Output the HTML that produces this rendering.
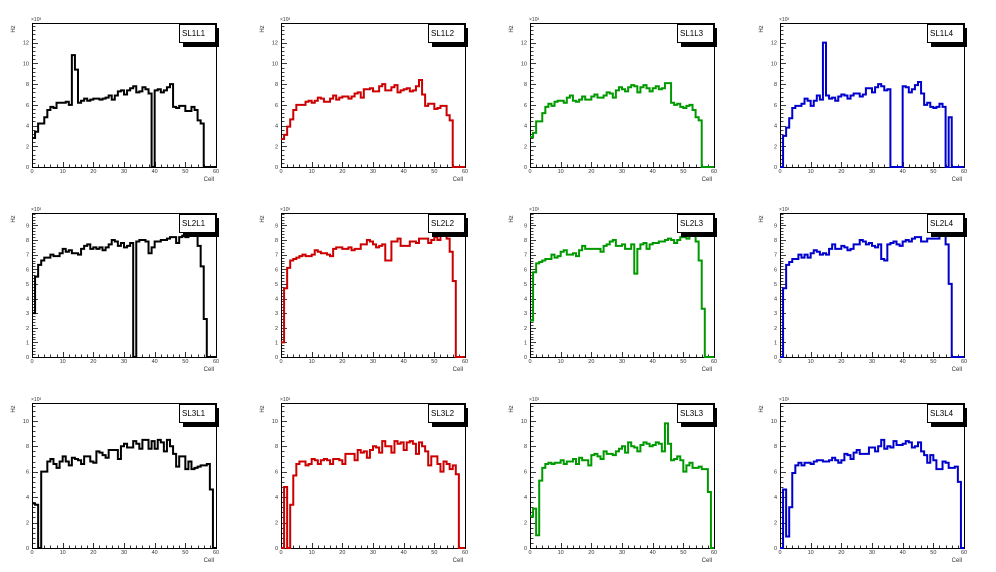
<!DOCTYPE html>
<html>
<head>
<meta charset="utf-8">
<style>
html,body{margin:0;padding:0;background:#fff;}
svg{display:block;font-family:"Liberation Sans",sans-serif;}
</style>
</head>
<body>
<svg id="chart" width="996" height="572" viewBox="0 0 996 572" xmlns="http://www.w3.org/2000/svg"></svg>
<script>
const panelNames = ["SL1L1","SL1L2","SL1L3","SL1L4","SL2L1","SL2L2","SL2L3","SL2L4","SL3L1","SL3L2","SL3L3","SL3L4"];
const sl1l1 = [2.8,3.4,4.2,4.2,4.8,5.5,5.8,5.7,6.2,6.2,6.2,6.3,6.0,10.8,9.4,6.2,6.4,6.6,6.4,6.5,6.6,6.6,6.5,6.6,6.7,6.9,6.5,6.9,7.3,7.4,7.0,7.4,7.6,7.8,7.2,7.3,7.7,7.5,7.1,0,7.4,7.5,7.2,7.4,7.7,8.0,5.8,5.7,5.9,5.9,5.4,5.4,5.8,5.5,4.5,4.2,0,0,0,0];
const sl1l2 = [2.7,3.1,3.9,4.6,5.5,6.0,6.0,6.0,6.3,6.4,6.2,6.4,6.7,6.6,6.3,6.3,6.6,6.9,6.5,6.7,6.8,6.8,6.6,6.8,7.1,7.2,6.7,7.5,7.5,7.6,7.3,7.3,7.8,8.0,7.4,7.4,7.7,7.9,7.2,7.4,7.5,7.6,7.3,7.4,7.8,8.4,7.0,5.9,6.1,6.1,5.6,5.7,5.9,5.9,5.0,4.5,0,0,0,0];
const sl1l3 = [2.9,3.3,4.4,4.4,5.2,5.8,6.1,5.9,6.3,6.4,6.4,6.2,6.7,6.9,6.4,6.3,6.5,6.8,6.5,6.5,6.8,7.0,6.7,6.7,6.9,7.2,7.1,6.7,7.4,7.7,7.5,7.3,7.7,7.9,7.8,7.2,7.7,7.9,7.6,7.3,7.6,7.8,7.5,7.6,8.1,8.1,6.2,6.0,6.1,5.8,5.7,5.9,6.0,5.5,4.8,4.5,0,0,0,0];
const sl1l4 = [0,3.0,3.8,4.7,5.7,5.9,5.9,6.1,6.6,6.4,5.9,6.4,6.9,6.5,12.0,6.9,6.6,6.7,6.4,6.8,7.0,6.9,6.6,6.9,7.1,7.1,6.8,7.0,7.6,7.6,7.2,7.7,8.0,7.8,7.4,7.5,0,0,0,0,7.8,7.7,7.2,7.5,7.9,8.2,7.1,6.0,6.2,5.8,5.7,5.8,6.1,5.8,0,4.8,0,0,0,0];
const sl2l1 = [3.0,5.5,6.3,6.6,6.8,6.8,7.0,6.9,6.9,7.1,7.4,7.2,7.3,7.1,7.1,7.0,7.4,7.6,7.7,7.4,7.5,7.4,7.5,7.3,7.5,7.7,8.0,7.9,7.6,7.8,7.5,7.6,7.8,0,7.9,8.0,8.0,7.9,7.1,7.5,7.9,7.9,8.0,8.0,8.1,8.2,8.2,7.8,8.2,8.3,8.2,8.4,8.3,8.5,7.6,6.2,2.6,0,0,0];
const sl2l2 = [1.0,4.7,6.1,6.6,6.7,6.8,6.9,7.0,6.9,6.9,7.0,7.3,7.2,7.1,7.1,7.0,6.9,7.4,7.5,7.5,7.4,7.4,7.5,7.3,7.4,7.4,7.7,7.7,8.0,7.9,7.7,7.5,7.6,7.7,6.6,6.6,7.9,7.9,8.1,7.6,7.6,7.6,7.9,7.9,7.8,8.1,8.1,8.1,7.8,8.0,8.2,8.0,8.3,8.4,8.1,7.2,5.2,0,0,0];
const sl2l3 = [2.5,5.8,6.4,6.5,6.6,6.7,6.7,7.0,6.8,6.9,7.2,7.3,7.0,7.0,7.1,6.9,7.3,7.6,7.4,7.4,7.4,7.4,7.4,7.2,7.6,7.7,7.9,8.0,7.6,7.6,7.7,7.4,7.4,7.7,5.7,7.4,7.7,7.8,7.4,7.7,7.8,7.8,7.9,7.9,8.0,8.1,8.0,7.8,8.0,8.2,8.2,8.1,8.3,8.3,7.9,6.6,3.3,0,0,0];
const sl2l4 = [0,4.7,6.3,6.5,6.7,6.7,7.0,6.8,7.0,6.8,7.1,7.3,7.2,7.0,7.1,7.0,7.4,7.7,7.4,7.4,7.6,7.5,7.3,7.4,7.7,7.7,8.0,7.9,7.7,7.8,7.6,7.5,7.7,6.7,6.6,7.7,7.8,7.9,7.7,7.6,7.9,8.0,7.9,8.1,8.2,8.2,7.9,7.9,8.1,8.1,8.1,8.1,8.3,8.3,7.7,5.0,0,0,0,0];
const sl3l1 = [3.5,3.4,0,6.0,6.0,6.8,7.0,6.6,6.3,6.8,7.2,6.8,6.5,7.1,7.0,6.9,6.6,7.2,7.2,6.8,6.7,7.6,7.5,7.3,7.1,7.7,7.7,7.7,7.0,8.0,8.2,7.9,7.9,8.4,8.2,7.8,8.5,8.5,7.8,8.4,7.8,8.5,8.3,7.6,8.5,8.0,7.4,6.4,7.2,7.2,6.2,6.8,6.2,6.3,6.4,6.5,6.5,6.6,4.6,0];
const sl3l2 = [0,4.8,0,3.4,5.7,6.6,6.8,6.8,6.5,6.6,7.0,6.9,6.6,6.9,7.0,6.9,6.6,7.0,7.0,6.9,6.6,7.4,7.4,7.4,6.9,7.7,7.5,7.6,7.1,7.7,8.0,7.9,7.5,8.4,8.0,8.0,7.5,8.4,8.2,8.3,7.7,8.3,8.4,8.2,7.4,8.3,8.0,7.6,6.5,7.2,7.2,6.6,6.0,6.8,6.6,6.2,6.5,5.8,0,0];
const sl3l3 = [2.5,3.1,1.0,5.3,6.3,6.6,6.7,6.6,6.7,6.7,6.9,6.6,6.8,6.8,7.0,6.6,7.1,6.9,6.9,6.5,7.3,7.4,7.2,7.0,7.6,7.4,7.4,7.3,7.6,7.8,8.0,7.5,8.3,8.0,7.9,7.6,8.1,8.3,8.2,8.0,8.1,8.3,8.2,7.6,9.8,8.2,6.9,7.0,7.2,6.9,6.0,6.5,6.7,6.3,6.3,6.4,6.2,6.2,4.4,0];
const sl3l4 = [0,4.6,0.9,3.2,5.9,6.5,6.7,6.5,6.7,6.7,6.6,6.8,6.9,6.9,6.8,6.8,6.9,7.1,6.9,6.7,6.9,7.4,7.3,7.0,7.5,7.7,7.4,7.4,7.4,7.9,7.9,7.6,8.0,8.5,7.8,8.0,7.9,8.4,8.1,8.1,8.2,8.4,8.3,7.9,8.0,8.3,7.6,7.3,6.7,7.3,6.9,6.2,6.2,6.8,6.7,6.3,6.3,6.4,5.2,0];
const seriesValues = [sl1l1,sl1l2,sl1l3,sl1l4,sl2l1,sl2l2,sl2l3,sl2l4,sl3l1,sl3l2,sl3l3,sl3l4];
const rowYMax = [13.9, 9.85, 11.4];
const rowYTicks = [[0,2,4,6,8,10,12],[0,1,2,3,4,5,6,7,8,9],[0,2,4,6,8,10]];
const xTicks = [0,10,20,30,40,50,60];
const xMax = 60;

const svg = document.getElementById('chart');
const NS = 'http://www.w3.org/2000/svg';
const colLeft = [32,281,530,780];
const rowTop = [23,213,403];
const rowBottom = [167,357,548];
const frameW = 184;
const colors = ['#000000','#cc0000','#009900','#0000cc'];

function mk(tag, attrs, parent){
  const e = document.createElementNS(NS, tag);
  for (const k in attrs) e.setAttribute(k, attrs[k]);
  parent.appendChild(e);
  return e;
}

for (let p = 0; p < 12; p++){
  const r = Math.floor(p/4), c = p%4;
  const L = colLeft[c], T = rowTop[r], B = rowBottom[r], R = L + frameW;
  const ymax = rowYMax[r];
  const xs = v => L + v/xMax*(R-L);
  const ys = v => B - v/ymax*(B-T);
  const g = mk('g', {}, svg);
  
  

  const frame = mk('rect', {x:L+0.5, y:T+0.5, width:R-L, height:B-T, fill:'none', stroke:'#000', 'stroke-width':1}, g);
  
  

  // y ticks
  const yt = rowYTicks[r];
  const step = yt[1]-yt[0];
  const minor = step/5;
  let d = '';
  for (let v = 0; v <= ymax + 1e-9; v += minor){
    const major = Math.abs(v/step - Math.round(v/step)) < 1e-6;
    const y = Math.round(ys(v)) + 0.5;
    d += 'M' + (L+1) + ' ' + y + 'h' + (major ? 5 : 2.5);
  }
  for (let v = 0; v <= xMax + 1e-9; v += 2){
    const major = v % 10 === 0;
    const x = Math.round(xs(v)) + 0.5;
    d += 'M' + x + ' ' + B + 'v' + (major ? -5 : -2.5);
  }
  const ticks = mk('path', {d:d, stroke:'#000', 'stroke-width':0.8, fill:'none'}, g);
  
  

  yt.forEach(v => {
    const t = mk('text', {x:L-3, y:ys(v)+2, 'font-size':5.5, 'text-anchor':'end', fill:'#333'}, g);
    t.textContent = v;
    
    
  });
  xTicks.forEach(v => {
    const t = mk('text', {x:xs(v), y:B+6, 'font-size':5.5, 'text-anchor':'middle', fill:'#333'}, g);
    t.textContent = v;
    
    
  });

  const mult = mk('text', {x:L-1, y:T-2, 'font-size':5, fill:'#333'}, g);
  mult.textContent = '\u00d710\u00b3';
  
  

  const yl = mk('text', {x:0, y:0, 'font-size':6, fill:'#333', transform:'translate(' + (L-17) + ',' + (T+6) + ') rotate(-90)', 'text-anchor':'middle'}, g);
  yl.textContent = 'Hz';
  
  

  const xl = mk('text', {x:R-2, y:B+14, 'font-size':6, fill:'#333', 'text-anchor':'end'}, g);
  xl.textContent = 'Cell';
  
  

  // histogram
  const vals = seriesValues[p];
  const bw = xMax / vals.length;
  let hd = 'M' + xs(0) + ' ' + ys(vals[0]);
  for (let i = 0; i < vals.length; i++){
    if (i > 0) hd += 'V' + ys(vals[i]);
    hd += 'H' + xs((i+1)*bw);
  }
  const hist = mk('path', {d:hd, fill:'none', stroke:colors[c], 'stroke-width':2, 'stroke-linejoin':'miter'}, g);
  
  

  // title box with shadow
  const shadow = mk('rect', {x:R-33, y:T+5, width:36, height:19, fill:'#000'}, g);
  
  
  const box = mk('rect', {x:R-36.5, y:T+1.5, width:36, height:18, fill:'#fff', stroke:'#000', 'stroke-width':1}, g);
  
  
  const tt = mk('text', {x:R-34, y:T+13, 'font-size':8, fill:'#000'}, g);
  tt.textContent = panelNames[p];
  
  
}
</script>
</body>
</html>
